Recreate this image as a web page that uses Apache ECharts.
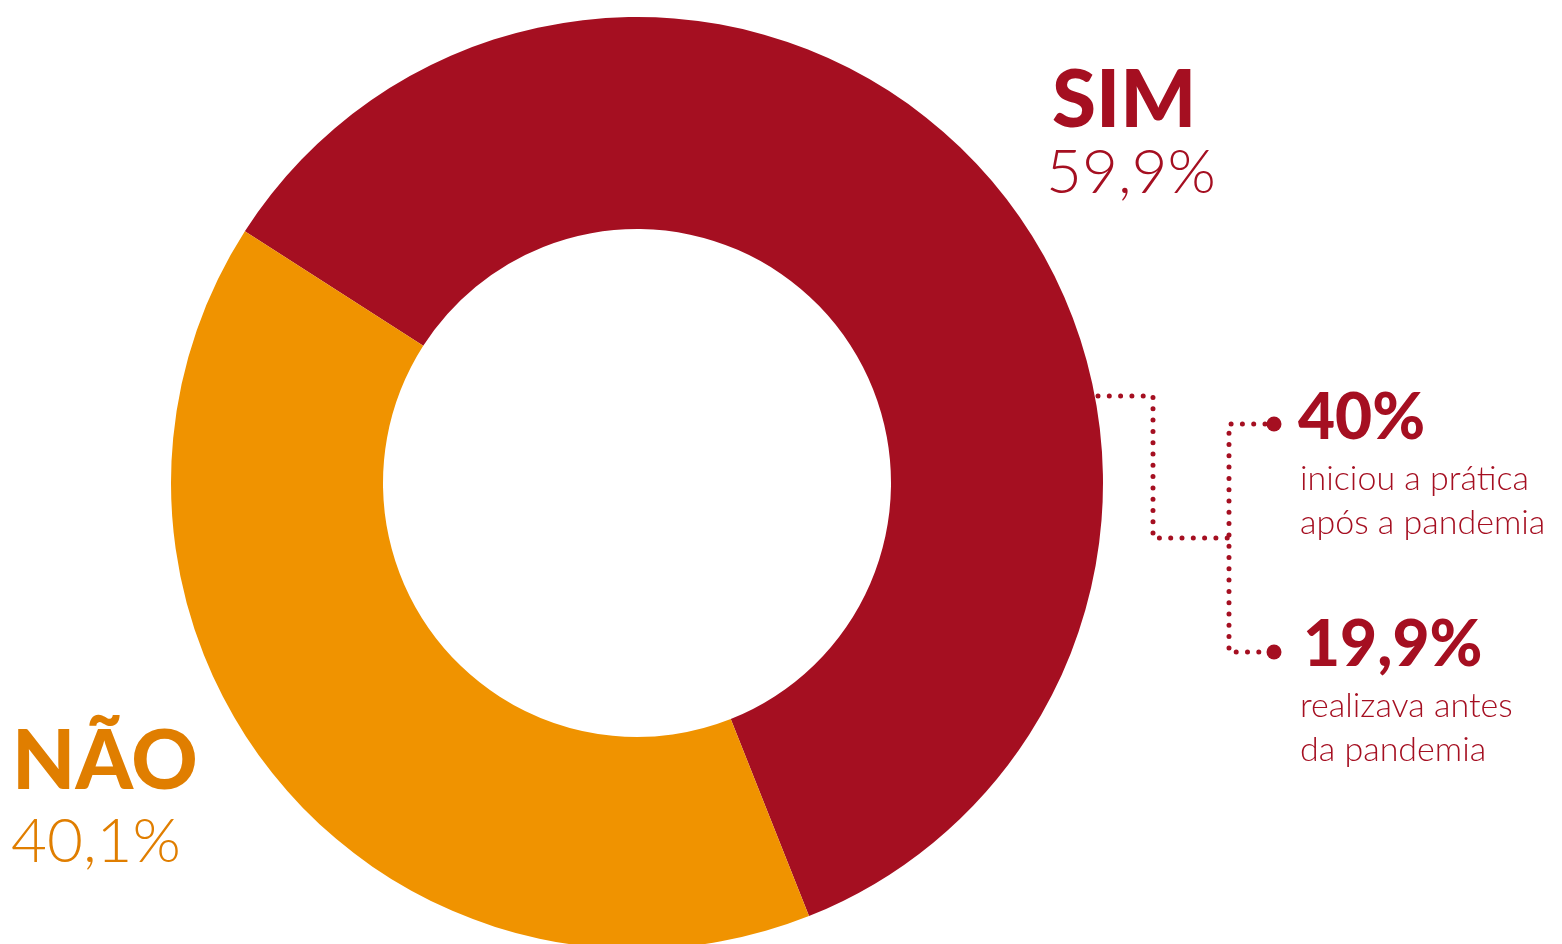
<!DOCTYPE html>
<html>
<head>
<meta charset="utf-8">
<script src="https://cdn.jsdelivr.net/npm/echarts@6/dist/echarts.min.js"></script>
<style>
html,body{margin:0;padding:0;background:#fff;}
#c{width:1562px;height:944px;}
</style>
</head>
<body>
<div id="c"></div>
<script>
const categories = ['SIM', 'NÃO'];
const values = [59.9, 40.1];
const valueLabels = ['59,9%', '40,1%'];
const colors = ['#A50F21', '#F09300'];
const textColors = ['#A50F21', '#E07E00'];
const subValues = ['40%', '19,9%'];
const subLines = [['iniciou a prática', 'após a pandemia'], ['realizava antes', 'da pandemia']];

const chart = echarts.init(document.getElementById('c'));
const heavy = 'Lato';
const light = 'Lato';
const red = textColors[0];
const dot = { stroke: red, lineWidth: 5, lineDash: [0, 11.3], lineCap: 'round', fill: null };

const graphic = [
  { type: 'text', left: 1052, top: 61, style: { text: categories[0], fill: textColors[0], font: '900 80px ' + heavy } },
  { type: 'text', left: 1046, top: 142, style: { text: valueLabels[0], fill: textColors[0], font: '300 62px ' + light } },
  { type: 'text', left: 12, top: 722, style: { text: categories[1], fill: textColors[1], font: '900 82px ' + heavy } },
  { type: 'text', left: 11, top: 811, style: { text: valueLabels[1], fill: textColors[1], font: '300 62px ' + light } },

  { type: 'text', left: 1298, top: 386, style: { text: subValues[0], fill: red, font: '900 64px ' + heavy } },
  { type: 'text', left: 1300, top: 457, style: { text: subLines[0].join('\n'), fill: red, font: '300 34px ' + light, lineHeight: 44 } },
  { type: 'text', left: 1303, top: 613, style: { text: subValues[1], fill: red, font: '900 64px ' + heavy } },
  { type: 'text', left: 1300, top: 684, style: { text: subLines[1].join('\n'), fill: red, font: '300 34px ' + light, lineHeight: 44 } },

  { type: 'polyline', shape: { points: [[1098, 396], [1153, 396], [1153, 538], [1229, 538]] }, style: dot, silent: true },
  { type: 'polyline', shape: { points: [[1265, 424], [1229, 424], [1229, 652], [1265, 652]] }, style: dot, silent: true },
  { type: 'circle', shape: { cx: 1274, cy: 424, r: 7.5 }, style: { fill: red } },
  { type: 'circle', shape: { cx: 1274, cy: 652, r: 7.5 }, style: { fill: red } }
];

chart.setOption({
  animation: false,
  backgroundColor: '#ffffff',
  color: colors,
  graphic: graphic,
  series: [{
    type: 'pie',
    center: [637, 483],
    radius: [254, 466],
    startAngle: 147.3,
    clockwise: true,
    label: { show: false },
    labelLine: { show: false },
    emphasis: { disabled: true },
    itemStyle: { borderWidth: 0 },
    data: categories.map((c, i) => ({ name: c, value: values[i] }))
  }]
});
</script>
</body>
</html>
